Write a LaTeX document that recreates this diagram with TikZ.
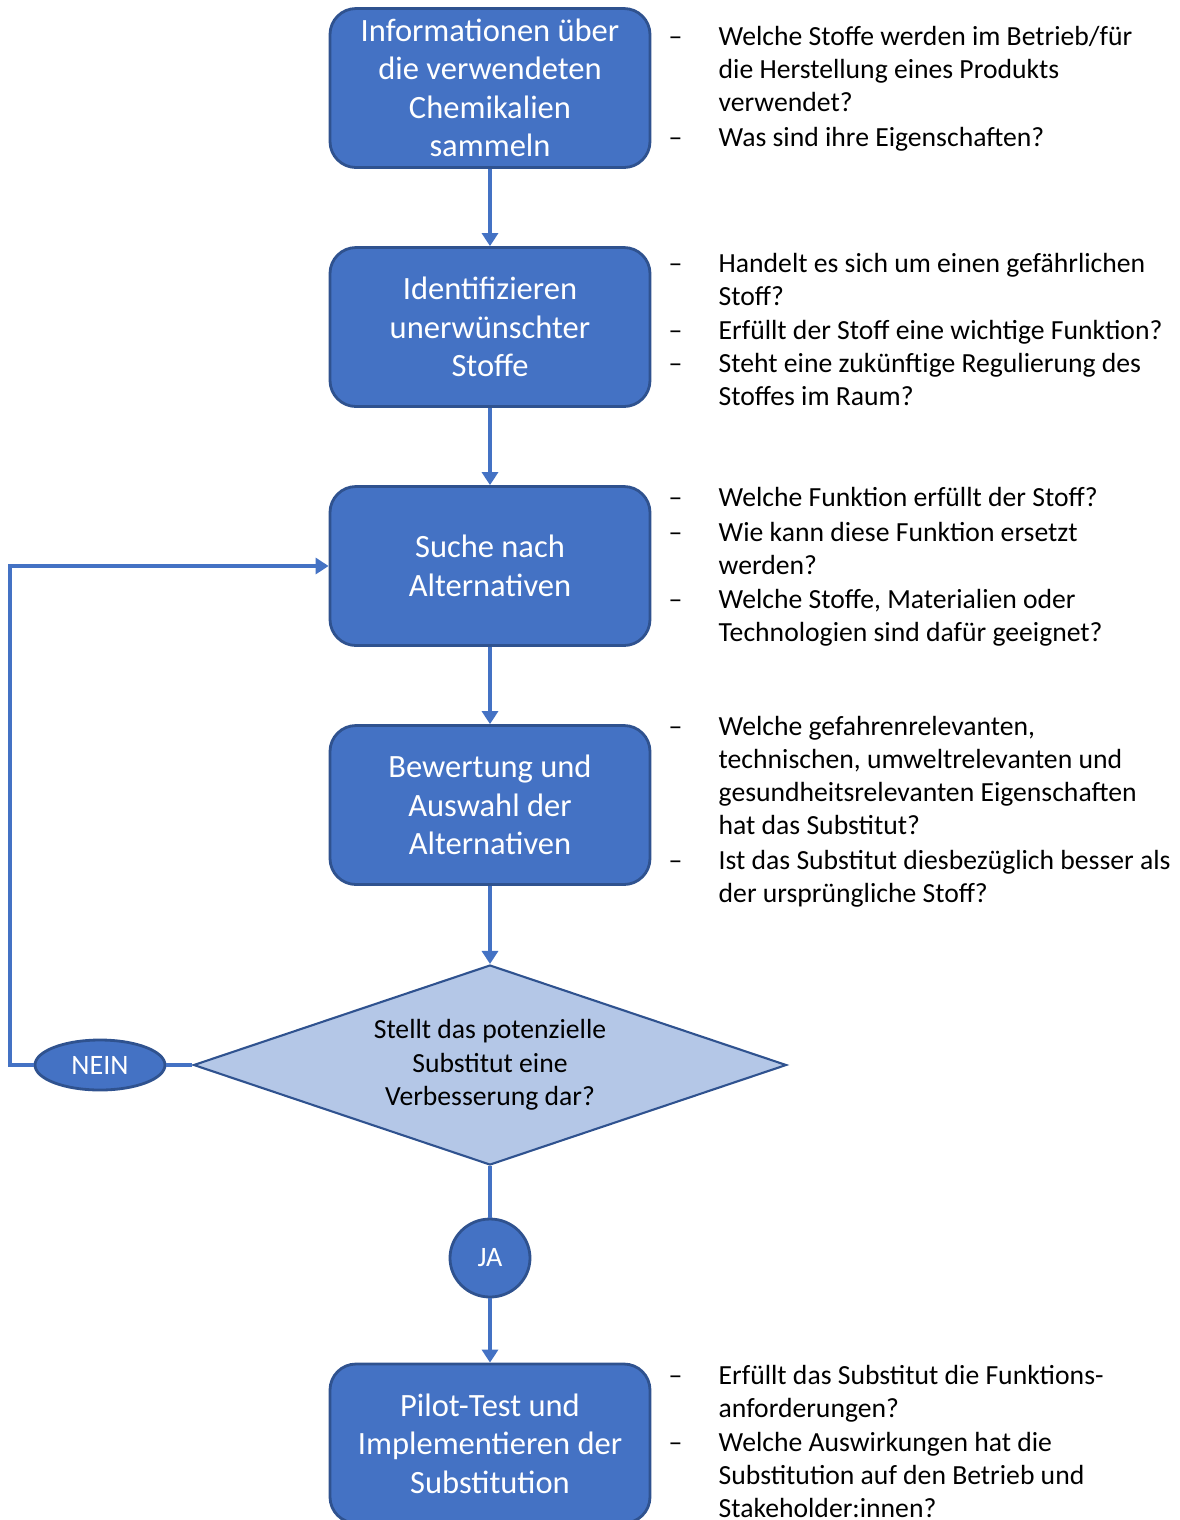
\documentclass[tikz,border=0pt]{standalone}
\usepackage{fontspec}
\setmainfont{Carlito}
\usepackage{xcolor}
\usepackage{tikz}
\usetikzlibrary{shapes.geometric,arrows.meta}
\definecolor{stepblue}{HTML}{4472C4}
\definecolor{stepedge}{HTML}{2F528F}
\definecolor{askfill}{HTML}{B4C7E7}
\tikzset{
  stepbox/.style={draw=stepedge, line width=0.8pt, fill=stepblue, rounded corners=2.6mm,
    minimum width=3.2cm, minimum height=1.59cm, inner sep=0pt, align=center, text=white,
    font=\fontsize{9.25pt}{10.95pt}\selectfont},
  askbox/.style={diamond, aspect=3, draw=stepedge, line width=0.6pt, fill=askfill, minimum width=5.93cm,
    minimum height=2cm, inner sep=0pt, align=center, font=\fontsize{7.87pt}{9.47pt}\selectfont},
  answer/.style={ellipse, draw=stepedge, line width=0.8pt, fill=stepblue, inner sep=0pt,
    text=white, font=\fontsize{8pt}{9pt}\selectfont},
  flow/.style={draw=stepblue, line width=1.1pt},
  flowarrow/.style={flow, -{Triangle[length=1.3mm,width=1.6mm]}},
  question/.style={anchor=base west, inner sep=0pt, align=left, font=\fontsize{7.87pt}{9.47pt}\selectfont},
}

\begin{document}
\begin{tikzpicture}[x=1cm,y=1cm]
                \useasboundingbox (0,0) rectangle (11.8,-15.2);
                % steps
                \node[stepbox] (info) at (4.9,-0.88) {Informationen über\\die verwendeten\\Chemikalien\\sammeln};
                \node[stepbox] (ident) at (4.9,-3.27) {Identifizieren\\unerwünschter\\Stoffe};
                \node[stepbox] (search) at (4.9,-5.66) {Suche nach\\Alternativen};
                \node[stepbox] (rate) at (4.9,-8.05) {Bewertung und\\Auswahl der\\Alternativen};
                \node[askbox] (better) at (4.9,-10.65) {Stellt das potenzielle\\Substitut eine\\Verbesserung dar?};
                \node[answer, minimum width=1.3cm, minimum height=0.5cm] (nein) at (1.0,-10.65) {NEIN};
                \node[answer, minimum width=0.8cm, minimum height=0.78cm] (ja) at (4.9,-12.58) {JA};
                \node[stepbox] (pilot) at (4.9,-14.435) {Pilot-Test und\\Implementieren der\\Substitution};
                \coordinate (back) at (0.1,-5.66);
                % connectors
                \draw[flowarrow] (info.south) -- (ident.north);
                \draw[flowarrow] (ident.south) -- (search.north);
                \draw[flowarrow] (search.south) -- (rate.north);
                \draw[flowarrow] (rate.south) -- (better.north);
                \draw[flow] (better.west) -- (nein.east);
                \draw[flowarrow] (nein.west) -| (back) -- (search.west);
                \draw[flow] (better.south) -- (ja.north);
                \draw[flowarrow] (ja.south) -- (pilot.north);
                % questions (anchored at the baseline of their last line)
                \node[question] (d1a) at (6.68,-0.45) {–};
                \node[question] (q1a) at (7.18,-1.116) {Welche Stoffe werden im Betrieb/für\\die Herstellung eines Produkts\\verwendet?};
                \node[question] (d1b) at (6.68,-1.46) {–};
                \node[question] (q1b) at (7.18,-1.46) {Was sind ihre Eigenschaften?};
                \node[question] (d2a) at (6.68,-2.72) {–};
                \node[question] (q2a) at (7.18,-3.053) {Handelt es sich um einen gefährlichen\\Stoff?};
                \node[question] (d2b) at (6.68,-3.39) {–};
                \node[question] (q2b) at (7.18,-3.39) {Erfüllt der Stoff eine wichtige Funktion?};
                \node[question] (d2c) at (6.68,-3.72) {–};
                \node[question] (q2c) at (7.18,-4.053) {Steht eine zukünftige Regulierung des\\Stoffes im Raum?};
                \node[question] (d3a) at (6.68,-5.06) {–};
                \node[question] (q3a) at (7.18,-5.06) {Welche Funktion erfüllt der Stoff?};
                \node[question] (d3b) at (6.68,-5.41) {–};
                \node[question] (q3b) at (7.18,-5.743) {Wie kann diese Funktion ersetzt\\werden?};
                \node[question] (d3c) at (6.68,-6.08) {–};
                \node[question] (q3c) at (7.18,-6.413) {Welche Stoffe, Materialien oder\\Technologien sind dafür geeignet?};
                \node[question] (d4a) at (6.68,-7.35) {–};
                \node[question] (q4a) at (7.18,-8.349) {Welche gefahrenrelevanten,\\technischen, umweltrelevanten und\\gesundheitsrelevanten Eigenschaften\\hat das Substitut?};
                \node[question] (d4b) at (6.68,-8.69) {–};
                \node[question] (q4b) at (7.18,-9.023) {Ist das Substitut diesbezüglich besser als\\der ursprüngliche Stoff?};
                \node[question] (d5a) at (6.68,-13.84) {–};
                \node[question] (q5a) at (7.18,-14.173) {Erfüllt das Substitut die Funktions-\\anforderungen?};
                \node[question] (d5b) at (6.68,-14.51) {–};
                \node[question] (q5b) at (7.18,-15.176) {Welche Auswirkungen hat die\\Substitution auf den Betrieb und\\Stakeholder:innen?};
            \end{tikzpicture}
\end{document}
